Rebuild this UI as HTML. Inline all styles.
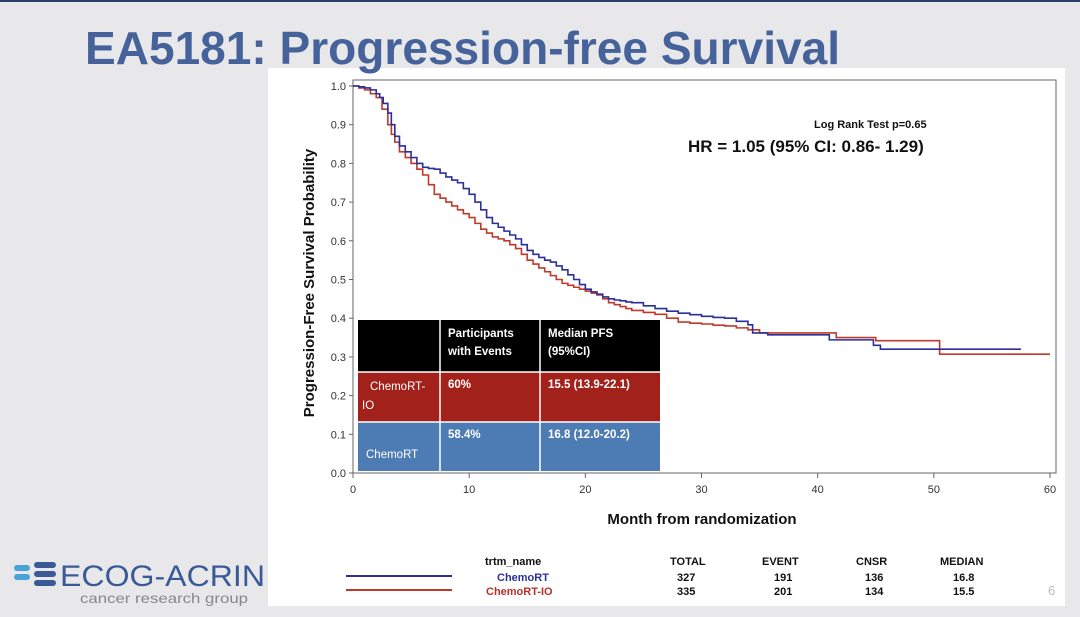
<!DOCTYPE html>
<html><head><meta charset="utf-8"><style>
html,body{margin:0;padding:0;}
body{width:1080px;height:612px;overflow:hidden;background:#e8e8ea;font-family:"Liberation Sans",sans-serif;}
</style></head><body>
<svg id="chart" width="1080" height="612" xmlns="http://www.w3.org/2000/svg" font-family="Liberation Sans, sans-serif">
<rect x="0" y="0" width="1080" height="612" fill="#e8e8ea"/>
<rect x="0" y="0" width="1080" height="2" fill="#2c3e70"/>
<rect x="268" y="68" width="797" height="538" fill="#ffffff"/>
<text x="85" y="64" font-size="46" font-weight="bold" fill="#46629b" textLength="755" lengthAdjust="spacingAndGlyphs">EA5181: Progression-free Survival</text>
<rect x="353" y="80" width="703" height="393" fill="none" stroke="#666" stroke-width="1"/>
<g id="axes"></g>
<g id="curves"></g>
<text transform="translate(314,283) rotate(-90)" text-anchor="middle" font-size="15" font-weight="bold" fill="#111">Progression-Free Survival Probability</text>
<text x="702" y="524" text-anchor="middle" font-size="15" font-weight="bold" fill="#111">Month from randomization</text>
<text x="814" y="128" font-size="11" font-weight="bold" fill="#111">Log Rank Test p=0.65</text>
<text x="688" y="152" font-size="17" font-weight="bold" fill="#111">HR = 1.05 (95% CI: 0.86- 1.29)</text>
<g font-size="11.5" font-weight="bold" fill="#fff">
<rect x="358" y="320" width="302" height="52" fill="#000"/>
<rect x="358" y="372" width="302" height="50" fill="#a3211b"/>
<rect x="358" y="422" width="302" height="49" fill="#4d7bb3"/>
<line x1="440" y1="320" x2="440" y2="471" stroke="#fff" stroke-width="1.5"/>
<line x1="540" y1="320" x2="540" y2="471" stroke="#fff" stroke-width="1.5"/>
<line x1="358" y1="372" x2="660" y2="372" stroke="#fff" stroke-width="1.5"/>
<line x1="358" y1="422" x2="660" y2="422" stroke="#fff" stroke-width="1.5"/>
<text x="448" y="337">Participants</text><text x="448" y="355">with Events</text>
<text x="548" y="337">Median PFS</text><text x="548" y="355">(95%CI)</text>
<text x="370" y="390" font-weight="normal">ChemoRT-</text><text x="362" y="409" font-weight="normal">IO</text>
<text x="448" y="388">60%</text><text x="548" y="388">15.5 (13.9-22.1)</text>
<text x="366" y="458" font-weight="normal">ChemoRT</text>
<text x="448" y="438">58.4%</text><text x="548" y="438">16.8 (12.0-20.2)</text>
</g>
<g font-size="11" font-weight="bold" fill="#111">
<line x1="346" y1="576" x2="452" y2="576" stroke="#2b2f9a" stroke-width="2"/>
<line x1="346" y1="590" x2="452" y2="590" stroke="#c0392b" stroke-width="2"/>
<text x="485" y="565">trtm_name</text>
<text x="670" y="565">TOTAL</text><text x="762" y="565">EVENT</text><text x="856" y="565">CNSR</text><text x="940" y="565">MEDIAN</text>
<text x="497" y="581" fill="#2b2f9a">ChemoRT</text>
<text x="486" y="595" fill="#b8302a">ChemoRT-IO</text>
<text x="677" y="581">327</text><text x="774" y="581">191</text><text x="865" y="581">136</text><text x="953" y="581">16.8</text>
<text x="677" y="595">335</text><text x="774" y="595">201</text><text x="865" y="595">134</text><text x="953" y="595">15.5</text>
</g>
<text x="1048" y="595" font-size="13" fill="#bbb">6</text>
<g>
<rect x="14" y="565" width="16" height="6" rx="3" fill="#4aa3d8"/><rect x="14" y="574" width="16" height="6" rx="3" fill="#4aa3d8"/>
<rect x="34" y="562" width="22" height="6" rx="3" fill="#3a5a97"/><rect x="34" y="571" width="22" height="6" rx="3" fill="#3a5a97"/><rect x="34" y="580" width="22" height="6" rx="3" fill="#3a5a97"/>
<text x="60" y="586" font-size="30" fill="#3a5a97" textLength="205" lengthAdjust="spacingAndGlyphs">ECOG-ACRIN</text>
<text x="80" y="603" font-size="14" fill="#888" textLength="168" lengthAdjust="spacingAndGlyphs">cancer research group</text>
</g>
</svg>
<script>
const yTicks=[0,0.1,0.2,0.3,0.4,0.5,0.6,0.7,0.8,0.9,1.0];
const xTicks=[0,10,20,30,40,50,60];
const chemoRtMonths=[0,0.5,1,1.5,2,2.3,2.6,3,3.3,3.6,4,4.5,5,5.5,6,6.5,7,7.5,8,8.5,9,9.5,10,10.5,11,11.5,12,12.5,13,13.5,14,14.5,15,15.5,16,16.5,17,17.5,18,18.5,19,19.5,20,20.5,21,21.5,22,22.5,23,23.5,24,25,26,27,28,29,30,31,32,33,34,34.4,35.7,41,44.8,45.4,57.5];
const chemoRtSurv=[1,0.998,0.995,0.99,0.98,0.97,0.955,0.93,0.9,0.87,0.845,0.83,0.815,0.8,0.79,0.787,0.785,0.775,0.765,0.757,0.75,0.735,0.72,0.7,0.68,0.66,0.645,0.635,0.625,0.615,0.605,0.59,0.575,0.565,0.557,0.55,0.545,0.535,0.525,0.512,0.5,0.487,0.475,0.468,0.462,0.455,0.45,0.447,0.445,0.442,0.44,0.432,0.425,0.418,0.413,0.409,0.405,0.402,0.4,0.392,0.383,0.362,0.357,0.344,0.33,0.32,0.32];
const chemoRtIoMonths=[0,0.5,1,1.5,2,2.5,3,3.3,3.6,4,4.5,5,5.5,6,6.5,7,7.5,8,8.5,9,9.5,10,10.5,11,11.5,12,12.5,13,13.5,14,14.5,15,15.5,16,16.5,17,17.5,18,18.5,19,19.5,20,20.5,21,21.5,22,22.5,23,23.5,24,25,26,27,28,29,30,31,32,33,34,35,41.6,45,50.5,60];
const chemoRtIoSurv=[1,0.995,0.99,0.98,0.97,0.94,0.9,0.875,0.855,0.83,0.815,0.8,0.785,0.77,0.745,0.72,0.71,0.7,0.69,0.68,0.67,0.66,0.645,0.63,0.62,0.61,0.605,0.6,0.59,0.58,0.565,0.55,0.54,0.53,0.52,0.51,0.5,0.49,0.485,0.48,0.475,0.47,0.465,0.46,0.45,0.44,0.435,0.43,0.425,0.42,0.415,0.41,0.4,0.39,0.387,0.385,0.382,0.38,0.375,0.37,0.362,0.35,0.342,0.307,0.307];
const NS='http://www.w3.org/2000/svg';
function xs(m){return 353+m*(1050-353)/60;}
function ys(v){return 473-v*387;}
const axes=document.getElementById('axes');
function mk(t,a,p){const e=document.createElementNS(NS,t);for(const k in a)e.setAttribute(k,a[k]);p.appendChild(e);return e;}
yTicks.forEach(v=>{
 const l=mk('line',{x1:349,x2:353,y1:ys(v),y2:ys(v),stroke:'#666'},axes);
 
 
 const t=mk('text',{x:346,y:ys(v)+4,'text-anchor':'end','font-size':11,fill:'#333'},axes);
 
 
 t.textContent=v.toFixed(1);
});
xTicks.forEach(m=>{
 const l=mk('line',{x1:xs(m),x2:xs(m),y1:473,y2:478,stroke:'#666'},axes);
 
 
 const t=mk('text',{x:xs(m),y:493,'text-anchor':'middle','font-size':11,fill:'#333'},axes);
 
 
 t.textContent=m;
});
function stepPath(ms,ss){let d='M'+xs(ms[0])+','+ys(ss[0]);for(let i=1;i<ms.length;i++){d+=' H'+xs(ms[i])+' V'+ys(ss[i]);}return d;}
const curves=document.getElementById('curves');
const red=mk('path',{d:stepPath(chemoRtIoMonths,chemoRtIoSurv),fill:'none',stroke:'#c0392b','stroke-width':1.6},curves);


const blue=mk('path',{d:stepPath(chemoRtMonths,chemoRtSurv),fill:'none',stroke:'#2b2f9a','stroke-width':1.6},curves);


</script>
</body></html>
